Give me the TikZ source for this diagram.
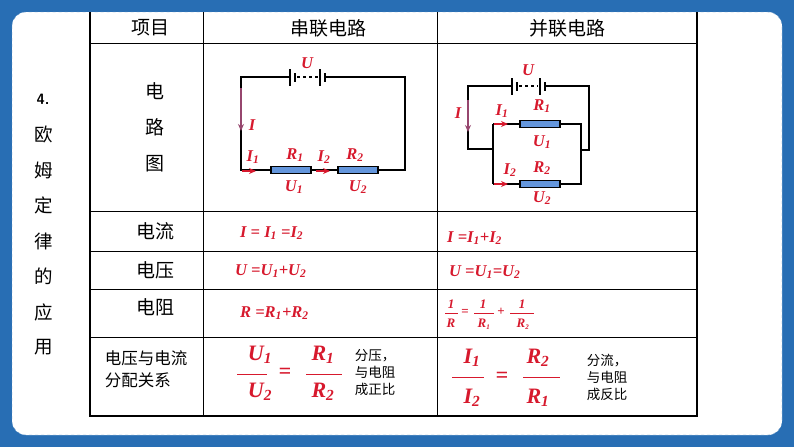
\documentclass[tikz,border=0pt]{standalone}
\usepackage{fontspec}
\setmainfont{Liberation Serif}
\newfontfamily\cjk{Noto Sans CJK SC}
\usetikzlibrary{arrows.meta}
\definecolor{fred}{RGB}{215,25,45}
\definecolor{bgblue}{RGB}{40,110,180}
\definecolor{resblue}{RGB}{100,150,220}
\definecolor{iarr}{RGB}{150,70,110}
\tikzset{
 cn/.style={font=\cjk\fontsize{19}{22}\selectfont,inner sep=0pt},
 cs/.style={font=\cjk\fontsize{13.5}{17}\selectfont,inner sep=0pt,align=left},
 fm/.style={font=\bfseries\itshape\fontsize{16.5}{19}\selectfont,text=fred,inner sep=0pt},
 fb/.style={font=\bfseries\itshape\fontsize{22}{24}\selectfont,text=fred,inner sep=0pt},
 wire/.style={line width=2pt},
 res/.style={draw,line width=1.6pt,fill=resblue,minimum width=40pt,minimum height=7pt,inner sep=0pt},
 arr/.style={-{Stealth[length=7pt,width=6pt]},fred,line width=1.5pt},
 iarrow/.style={-{Stealth[length=7pt,width=6pt]},iarr,line width=1.5pt},
 grid/.style={line width=0.6pt},
}
\begin{document}
\begin{tikzpicture}[x=1pt,y=-1pt]
\fill[bgblue] (0,0) rectangle (794,447);
\fill[white,rounded corners=14pt] (12,12) rectangle (782,435);
\draw[bgblue!70,dashed,rounded corners=14pt] (12,12) rectangle (782,435);
% side title
\node[font=\sffamily\bfseries\fontsize{15}{17}\selectfont] (t4) at (43,99) {4.};
\foreach \c [count=\i] in {欧,姆,定,律,的,应,用}
  \node[cn,font=\cjk\fontsize{18.5}{20}\selectfont] (s\i) at (44,99+\i*35.5) {\c};
% table
\draw[line width=1.2pt] (90,12) -- (90,416) -- (697,416) -- (697,12);
\foreach \y in {43,211,251,289,337} \draw[grid] (90,\y) -- (697,\y);
\draw[grid] (203,12) -- (203,416);
\draw[grid] (437,12) -- (437,416);
\node[cn] (h1) at (150,28) {项目};
\node[cn] (h2) at (328,28) {串联电路};
\node[cn] (h3) at (567,28) {并联电路};
\node[cn,align=center,font=\cjk\fontsize{19}{36}\selectfont] (r1) at (155,127) {电\\路\\图};
\node[cn] (r2) at (155,231) {电流};
\node[cn] (r3) at (155,270) {电压};
\node[cn] (r4) at (155,307) {电阻};
\node[cs,font=\cjk\fontsize{16.5}{22}\selectfont] (r5) at (146,369) {电压与电流\\分配关系};
% series circuit
\coordinate (a) at (241,77); \coordinate (b) at (405,77);
\coordinate (c) at (405,170); \coordinate (d) at (241,170);
\node[res] (R1) at (291,170) {};
\node[res] (R2) at (358,170) {};
\draw[wire] (290,77) -- (a) -- (d) -- (R1.west);
\draw[wire] (R1.east) -- (R2.west);
\draw[wire] (R2.east) -- (c) -- (b) -- (325,77);
\draw[wire] (290,69) -- (290,86); \draw[wire] (295,73) -- (295,82);
\draw[wire,dash pattern=on 3pt off 3pt] (297,77) -- (318,77);
\draw[wire] (320,69) -- (320,86); \draw[wire] (325,73) -- (325,82);
\node[fm] (u) at (307,63) {U};
\draw[iarrow] (241,88) -- (241,131);
\node[fm] (I) at (252,125) {I};
\draw[arr] (242,171) -- (256,171);
\draw[arr] (316,171) -- (330,171);
\node[fm] (i1) at (253,157) {I\textsubscript{1}};
\node[fm] (i2) at (324,157) {I\textsubscript{2}};
\node[fm] (rr1) at (295,155) {R\textsubscript{1}};
\node[fm] (rr2) at (355,155) {R\textsubscript{2}};
\node[fm] (uu1) at (294,187) {U\textsubscript{1}};
\node[fm] (uu2) at (358,187) {U\textsubscript{2}};
% parallel circuit
\node[res] (P1) at (540,124) {};
\node[res] (P2) at (540,184) {};
\draw[wire] (512,86) -- (468,86) -- (468,149) -- (493,149);
\draw[wire] (493,124) -- (493,184);
\draw[wire] (493,124) -- (P1.west); \draw[wire] (493,184) -- (P2.west);
\draw[wire] (P1.east) -- (581,124) -- (581,184) -- (P2.east);
\draw[wire] (581,150) -- (589,150) -- (589,86) -- (545,86);
\draw[wire] (512,78) -- (512,95); \draw[wire] (517,82) -- (517,91);
\draw[wire,dash pattern=on 3pt off 3pt] (519,86) -- (538,86);
\draw[wire] (540,78) -- (540,95); \draw[wire] (545,82) -- (545,91);
\node[fm] (pu) at (528,70) {U};
\draw[iarrow] (468,100) -- (468,132);
\node[fm] (pI) at (458,113) {I};
\draw[arr] (494,124) -- (508,124);
\draw[arr] (494,184) -- (508,184);
\node[fm] (pi1) at (502,111) {I\textsubscript{1}};
\node[fm] (pi2) at (510,170) {I\textsubscript{2}};
\node[fm] (pr1) at (542,106) {R\textsubscript{1}};
\node[fm] (pu1) at (542,142) {U\textsubscript{1}};
\node[fm] (pr2) at (542,168) {R\textsubscript{2}};
\node[fm] (pu2) at (542,198) {U\textsubscript{2}};
% formulas
\node[fm,anchor=west] (f1) at (240,233) {I = I\textsubscript{1} =I\textsubscript{2}};
\node[fm,anchor=west] (f2) at (447,238) {I =I\textsubscript{1}+I\textsubscript{2}};
\node[fm,anchor=west] (f3) at (235,271) {U =U\textsubscript{1}+U\textsubscript{2}};
\node[fm,anchor=west] (f4) at (449,272) {U =U\textsubscript{1}=U\textsubscript{2}};
\node[fm,anchor=west] (f5) at (240,313) {R =R\textsubscript{1}+R\textsubscript{2}};
% parallel resistance fraction
\node[fm,font=\bfseries\itshape\fontsize{13}{15}\selectfont] (a1) at (451,304) {1};
\node[fm,font=\bfseries\itshape\fontsize{13}{15}\selectfont] (a2) at (451,323) {R};
\draw[fred,line width=0.5pt] (445,313) -- (458,313);
\node[fm,font=\bfseries\fontsize{13}{15}\selectfont] (e6) at (465,312) {=};
\node[fm,font=\bfseries\itshape\fontsize{13}{15}\selectfont] (b1) at (483,304) {1};
\node[fm,font=\bfseries\itshape\fontsize{13}{15}\selectfont] (b2) at (484,324) {R\textsubscript{\scriptsize 1}};
\draw[fred,line width=0.5pt] (474,313) -- (494,313);
\node[fm,font=\bfseries\fontsize{13}{15}\selectfont] (p6) at (501,312) {+};
\node[fm,font=\bfseries\itshape\fontsize{13}{15}\selectfont] (c1) at (522,304) {1};
\node[fm,font=\bfseries\itshape\fontsize{13}{15}\selectfont] (c2) at (523,324) {R\textsubscript{\scriptsize 2}};
\draw[fred,line width=0.5pt] (510,313) -- (534,313);
% ratios
\node[fb] (n1) at (260,355) {U\textsubscript{1}};
\node[fb] (d1) at (260,392) {U\textsubscript{2}};
\draw[fred,line width=0.5pt] (237,374) -- (267,374);
\node[fb] (eq1) at (285,373) {=};
\node[fb] (n2) at (323,355) {R\textsubscript{1}};
\node[fb] (d2) at (323,392) {R\textsubscript{2}};
\draw[fred,line width=0.5pt] (306,374) -- (342,374);
\node[cs] (t1) at (375,373) {分压，\\与电阻\\成正比};
\node[fb] (n3) at (472,358) {I\textsubscript{1}};
\node[fb] (d3) at (472,398) {I\textsubscript{2}};
\draw[fred,line width=0.5pt] (452,377) -- (484,377);
\node[fb] (eq2) at (502,377) {=};
\node[fb] (n4) at (538,358) {R\textsubscript{2}};
\node[fb] (d4) at (538,398) {R\textsubscript{1}};
\draw[fred,line width=0.5pt] (523,377) -- (560,377);
\node[cs] (t2) at (607,377) {分流，\\与电阻\\成反比};
\end{tikzpicture}
\end{document}
